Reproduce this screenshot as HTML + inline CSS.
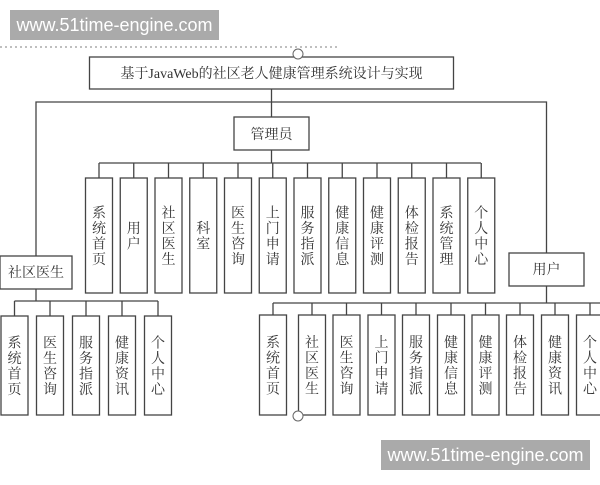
<!DOCTYPE html>
<html><head><meta charset="utf-8"><style>
body{margin:0;background:#fff}
svg text{font-family:"Liberation Serif","Noto Serif CJK SC",serif;fill:#333}
</style></head><body>
<svg width="600" height="480" viewBox="0 0 600 480" xmlns="http://www.w3.org/2000/svg">
<g stroke="#444" stroke-width="1.3" fill="#fff">
<line x1="0" y1="47" x2="340" y2="47" stroke="#999" stroke-dasharray="2,3"/>
<rect x="89.5" y="57" width="364" height="32"/>
<line x1="271.5" y1="89" x2="271.5" y2="117"/>
<polyline points="36,256 36,102 546.5,102 546.5,253" fill="none"/>
<rect x="234" y="117" width="75" height="33"/>
<line x1="271.5" y1="150" x2="271.5" y2="163"/>
<line x1="99" y1="163" x2="481" y2="163"/>
<rect x="0" y="256" width="72" height="33"/>
<rect x="509" y="253" width="75" height="33"/>
<line x1="36" y1="289" x2="36" y2="301"/>
<line x1="14.5" y1="301" x2="158" y2="301"/>
<line x1="546.5" y1="286" x2="546.5" y2="303"/>
<line x1="273" y1="303" x2="600" y2="303"/>
</g>
<g id="adm" stroke="#444" stroke-width="1.3" fill="#fff"></g>
<text x="271.5" y="78" font-size="14" text-anchor="middle">基于JavaWeb的社区老人健康管理系统设计与实现</text>
<text x="271.5" y="139" font-size="14" text-anchor="middle">管理员</text>
<text x="36" y="277" font-size="14" text-anchor="middle">社区医生</text>
<text x="546.5" y="274" font-size="14" text-anchor="middle">用户</text>
<g id="kids"></g>
<circle cx="298" cy="54" r="5" fill="#fff" stroke="#666"/>
<circle cx="298" cy="416" r="5" fill="#fff" stroke="#666"/>
<rect x="10" y="10" width="209" height="30" fill="#aaa"/>
<text x="114.5" y="31" font-size="18" text-anchor="middle" style="font-family:'Liberation Sans',sans-serif;fill:#fff">www.51time-engine.com</text>
<rect x="381" y="440" width="209" height="30" fill="#aaa"/>
<text x="485.5" y="461" font-size="18" text-anchor="middle" style="font-family:'Liberation Sans',sans-serif;fill:#fff">www.51time-engine.com</text>
</svg>
<script>
var ns="http://www.w3.org/2000/svg",svg=document.querySelector('svg'),kids=document.getElementById('kids');
function box(cx,busY,top,bot,label){
 var w=27,g=document.createElementNS(ns,'g');
 var l=document.createElementNS(ns,'line');l.setAttribute('x1',cx);l.setAttribute('x2',cx);l.setAttribute('y1',busY);l.setAttribute('y2',top);l.setAttribute('stroke','#444');l.setAttribute('stroke-width','1.3');g.appendChild(l);
 var r=document.createElementNS(ns,'rect');r.setAttribute('x',cx-w/2);r.setAttribute('y',top);r.setAttribute('width',w);r.setAttribute('height',bot-top);r.setAttribute('fill','#fff');r.setAttribute('stroke','#444');r.setAttribute('stroke-width','1.3');g.appendChild(r);
 var n=label.length,mid=(top+bot)/2,sp=15.5,y0=mid-(n-1)*sp/2+5;
 for(var i=0;i<n;i++){var t=document.createElementNS(ns,'text');t.setAttribute('x',cx);t.setAttribute('y',y0+i*sp);t.setAttribute('font-size','14');t.setAttribute('text-anchor','middle');t.textContent=label[i];g.appendChild(t);}
 kids.appendChild(g);
}
var a=["系统首页","用户","社区医生","科室","医生咨询","上门申请","服务指派","健康信息","健康评测","体检报告","系统管理","个人中心"];
for(var i=0;i<12;i++)box(99+i*34.75,163,178,293,a[i]);
var b=["系统首页","医生咨询","服务指派","健康资讯","个人中心"],bx=[14.5,50,86,122,158];
for(var i=0;i<5;i++)box(bx[i],301,316,415,b[i]);
var c=["系统首页","社区医生","医生咨询","上门申请","服务指派","健康信息","健康评测","体检报告","健康资讯","个人中心"],cx=[273,312,346.5,381.5,416,451,485.5,520,555,590];
for(var i=0;i<10;i++)box(cx[i],303,315,415,c[i]);
</script>
</body></html>
